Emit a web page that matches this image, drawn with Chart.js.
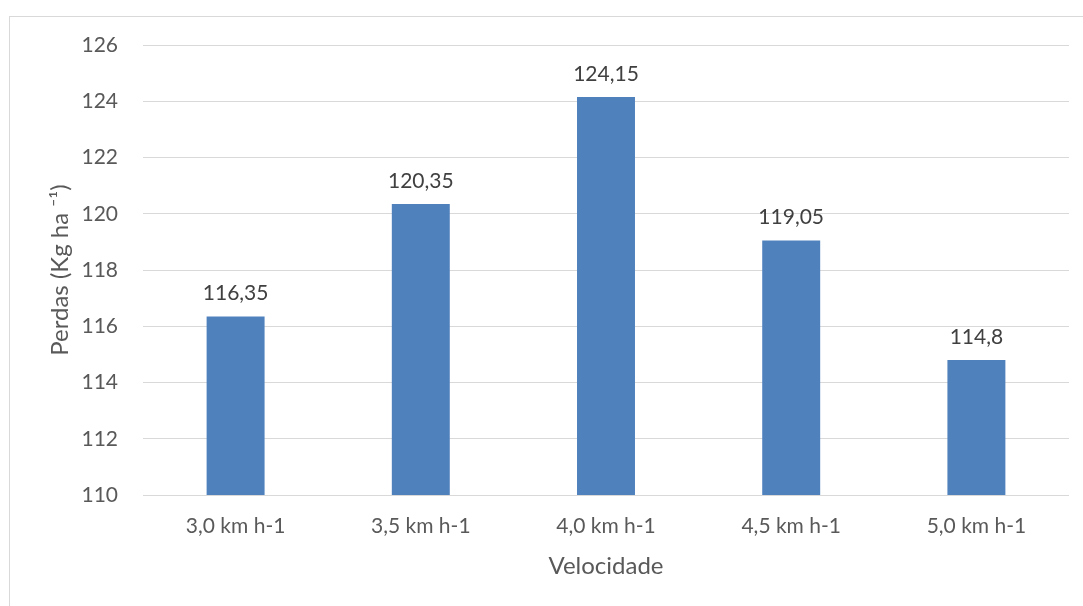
<!DOCTYPE html>
<html>
<head>
<meta charset="utf-8">
<script src="https://cdn.jsdelivr.net/npm/chart.js@4/dist/chart.umd.min.js"></script>
<style>
  html, body { margin: 0; padding: 0; background: #fff; overflow: hidden; }
  #frame { position: absolute; left: 9px; top: 16px; width: 1100px; height: 620px;
           border: 1px solid #d9d9d9; box-sizing: border-box; }
  #wrap { position: absolute; left: 0; top: 0; width: 1083px; height: 606px; }
</style>
</head>
<body>
<div id="frame"></div>
<div id="wrap"><canvas id="chart" width="1083" height="606"></canvas></div>
<script>
// Perdas por velocidade de deslocamento
const categories = ['3,0 km h-1', '3,5 km h-1', '4,0 km h-1', '4,5 km h-1', '5,0 km h-1'];
const perdas = [116.35, 120.35, 124.15, 119.05, 114.8];
const yMin = 110;
const yMax = 126;
const yStep = 2;

const FONT = 'Lato, "Open Sans", sans-serif';
const fmt = v => String(v).replace('.', ',');

// value labels above each bar
const valueLabels = {
  id: 'valueLabels',
  afterDatasetsDraw(chart) {
    const ctx = chart.ctx;
    const meta = chart.getDatasetMeta(0);
    ctx.save();
    ctx.font = '21px ' + FONT;
    ctx.fillStyle = '#404040';
    ctx.textAlign = 'center';
    ctx.textBaseline = 'middle';
    meta.data.forEach((bar, i) => {
      ctx.fillText(fmt(chart.data.datasets[0].data[i]), bar.x, bar.y - 23);
    });
    ctx.restore();
  }
};

new Chart(document.getElementById('chart'), {
  type: 'bar',
  data: {
    labels: categories,
    datasets: [{
      data: perdas,
      backgroundColor: '#4f81bd',
      borderWidth: 0,
      categoryPercentage: 1,
      barPercentage: 0.313
    }]
  },
  options: {
    responsive: false,
    animation: false,
    devicePixelRatio: 1,
    layout: { padding: { top: 45, right: 14, bottom: 0, left: 0 } },
    plugins: { legend: { display: false }, tooltip: { enabled: false } },
    scales: {
      x: {
        grid: { display: false, drawTicks: false },
        border: { display: false },
        ticks: { color: '#595959', font: { family: FONT, size: 21 }, padding: 19, maxRotation: 0 },
        title: { display: true, text: 'Velocidade', color: '#595959',
                 font: { family: FONT, size: 24 }, padding: { top: 0, bottom: 25 } },
        afterFit(scale) { scale.height = 111; }
      },
      y: {
        min: yMin,
        max: yMax,
        grid: { color: '#d9d9d9', lineWidth: 1, drawTicks: false },
        border: { display: false },
        ticks: { stepSize: yStep, color: '#595959', font: { family: FONT, size: 21 }, padding: 25 },
        title: { display: true, text: 'Perdas (Kg ha \u207B\u00B9)', color: '#595959',
                 font: { family: FONT, size: 24 }, padding: { top: 46, bottom: 0 } },
        afterFit(scale) { scale.width = 143; }
      }
    }
  },
  plugins: [valueLabels]
});
</script>
</body>
</html>
